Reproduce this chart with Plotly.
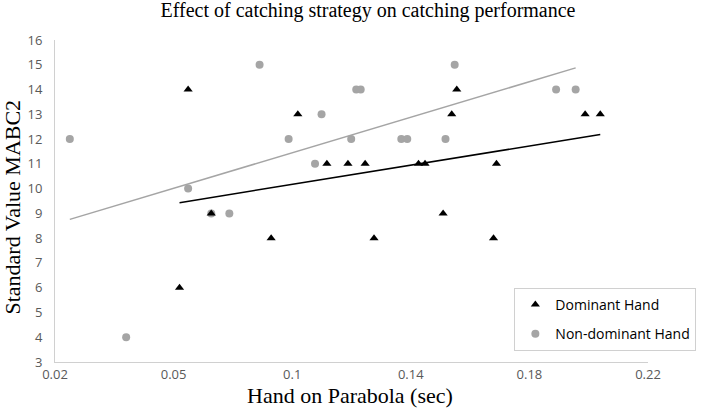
import numpy as np
import plotly.graph_objects as go

# Data
dom_x = [0.062, 0.0649, 0.0727, 0.0929, 0.1019, 0.1117, 0.1188, 0.1246, 0.1276,
         0.1426, 0.1448, 0.1509, 0.1538, 0.1555, 0.1679, 0.1689, 0.1988, 0.2039]
dom_y = [6, 14, 9, 8, 13, 11, 11, 11, 8, 11, 11, 9, 13, 14, 8, 11, 13, 13]

non_x = [0.025, 0.044, 0.0649, 0.0727, 0.0788, 0.089, 0.0988, 0.1077, 0.1099,
         0.1199, 0.1216, 0.1231, 0.1368, 0.1388, 0.1517, 0.1548, 0.189, 0.1956]
non_y = [12, 4, 10, 9, 9, 15, 12, 11, 13, 12, 14, 14, 12, 12, 12, 15, 14, 14]

x_tickvals = [0.02, 0.06, 0.10, 0.14, 0.18, 0.22]
x_ticktext = ["0.02", "0.05", "0.1", "0.14", "0.18", "0.22"]

GRAY = "#a5a5a5"


def trend(xs, ys):
    m, b = np.polyfit(xs, ys, 1)
    xr = np.array([min(xs), max(xs)])
    return xr, m * xr + b


fig = go.Figure()

tx, ty = trend(non_x, non_y)
fig.add_trace(go.Scatter(x=tx, y=ty, mode="lines", line=dict(color=GRAY, width=1.5),
                         showlegend=False, hoverinfo="skip"))
tx, ty = trend(dom_x, dom_y)
fig.add_trace(go.Scatter(x=tx, y=ty, mode="lines", line=dict(color="black", width=1.5),
                         showlegend=False, hoverinfo="skip"))

fig.add_trace(go.Scatter(x=non_x, y=non_y, mode="markers", name="Non-dominant Hand",
                         legendgroup="b", legendrank=2,
                         marker=dict(symbol="circle", size=8, color=GRAY)))
fig.add_trace(go.Scatter(x=dom_x, y=dom_y, mode="markers", name="Dominant Hand",
                         legendgroup="a", legendrank=1,
                         marker=dict(symbol="triangle-up", size=8, color="black")))

fig.update_layout(
    width=708, height=408,
    margin=dict(l=55, r=52, t=40, b=46),
    paper_bgcolor="white", plot_bgcolor="white",
    title=dict(text="Effect of catching strategy on catching performance",
               font=dict(family="Liberation Serif", size=20, color="black"),
               x=368 / 708, xanchor="center", xref="container",
               y=1 - 10 / 408, yanchor="middle", yref="container"),
    font=dict(family="Open Sans", size=13, color="#595959"),
    xaxis=dict(range=[0.02, 0.22], tickvals=x_tickvals, ticktext=x_ticktext,
               showgrid=False, zeroline=False, showline=True, linecolor="#d0d0d0",
               linewidth=1, ticks="", tickfont=dict(size=13, color="#595959")),
    yaxis=dict(range=[3, 16], dtick=1, showgrid=False, zeroline=False, showline=True,
               linecolor="#d0d0d0", linewidth=1, ticks="", ticklabelstandoff=9,
               tickfont=dict(size=13, color="#595959")),
    legend=dict(x=(705 - 55) / 601, y=(362 - 288) / 322, xanchor="right", yanchor="top",
                xref="paper", yref="paper",
                bgcolor="white", bordercolor="#d0d0d0", borderwidth=1,
                traceorder="grouped", tracegroupgap=8,
                font=dict(family="Open Sans", size=14, color="black")),
    annotations=[
        dict(text="Hand on Parabola (sec)", xref="paper", yref="paper",
             x=(354 - 55) / 601, y=-(395 - 362) / 322, xanchor="center", yanchor="middle",
             showarrow=False, font=dict(family="Liberation Serif", size=22, color="black")),
        dict(text="Standard Value MABC2", xref="paper", yref="paper",
             x=-(55 - 12) / 601, y=(362 - 207) / 322, xanchor="center", yanchor="middle",
             textangle=-90, showarrow=False,
             font=dict(family="Liberation Serif", size=22, color="black")),
    ],
)

fig.write_html("out.html",
               config={"displayModeBar": False},
               post_script="document.body.style.margin='0';"
                           "document.body.style.overflow='hidden';")
